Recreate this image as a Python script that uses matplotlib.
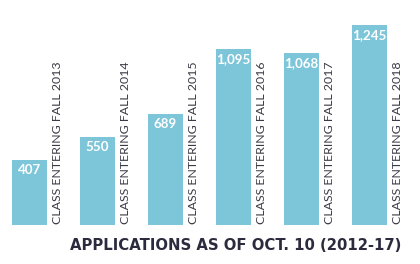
import matplotlib
matplotlib.use("Agg")
import matplotlib.pyplot as plt

classes = ["CLASS ENTERING FALL 2013", "CLASS ENTERING FALL 2014", "CLASS ENTERING FALL 2015",
           "CLASS ENTERING FALL 2016", "CLASS ENTERING FALL 2017", "CLASS ENTERING FALL 2018"]
applications = [407, 550, 689, 1095, 1068, 1245]
value_labels = ["407", "550", "689", "1,095", "1,068", "1,245"]

C_BAR = "#7dc5d9"; C_INK = "#2b2b3d"; C_TXT = "#3a3a44"

fig = plt.figure(figsize=(4.2, 2.64), dpi=100)
ax = fig.add_axes([0, 39/264, 1, 225/264])
x = list(range(len(applications)))
ax.bar(x, applications, width=0.515, color=C_BAR, edgecolor="none")
ax.set_xlim(-29.5/68, (420-29.5)/68)
ax.set_ylim(0, 1400)
ax.axis("off")

for i, (v, lab, cl) in enumerate(zip(applications, value_labels, classes)):
    ax.text(i, v - 62, lab, ha="center", va="center", color="white", fontsize=9.6,
            weight="bold", family="Lato")
    ax.text(i + 0.41, 8, cl, rotation=90, ha="center", va="bottom", color=C_TXT,
            fontsize=8.9, family="Lato")

fig.text(236/420, 1 - 245/264, "APPLICATIONS AS OF OCT. 10 (2012-17)", ha="center", va="center",
         fontsize=10.7, weight="bold", color=C_INK, family="DejaVu Sans")

fig.savefig("out.png", dpi=100, facecolor="white")
